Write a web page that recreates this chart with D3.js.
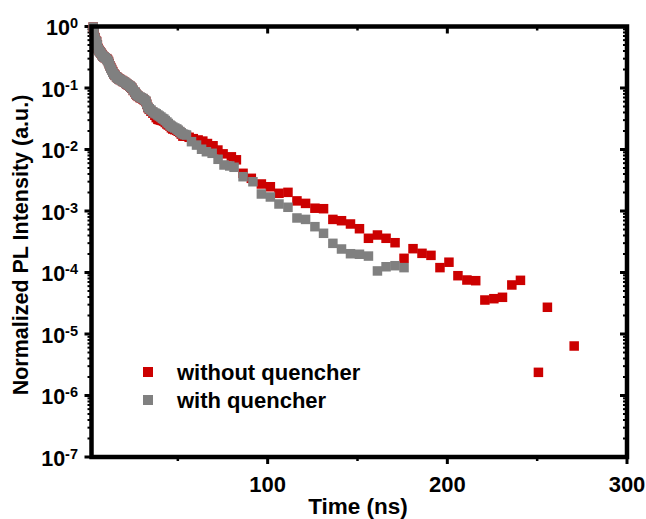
<!DOCTYPE html>
<html>
<head>
<meta charset="utf-8">
<script src="https://cdn.jsdelivr.net/npm/d3@7"></script>
<style>
  html, body { margin: 0; padding: 0; background: #fff; }
  svg { display: block; font-family: "Liberation Sans", Arial, sans-serif; font-weight: bold; }
</style>
</head>
<body>
<svg id="chart" width="646" height="519"></svg>
<script>
// PL decay, time in ns, intensity normalized to the first point
const timeWithout = [2.9, 3.4, 3.9, 4.3, 4.8, 5.2, 5.7, 6.2, 6.7, 7.2, 7.8, 8.3, 8.9, 9.6, 10.4, 10.9, 11.4, 11.8, 12.2, 12.7, 13.2, 13.8, 14.4, 15.1, 15.9, 16.5, 17.2, 17.9, 18.7, 19.5, 20.3, 21.0, 21.7, 22.5, 23.3, 23.8, 24.4, 25.2, 26.1, 26.6, 27.2, 28.0, 28.9, 29.7, 30.6, 31.4, 32.2, 32.7, 33.3, 34.1, 35.0, 36.1, 37.2, 38.0, 38.9, 39.7, 40.6, 41.4, 42.2, 43.0, 43.9, 44.7, 45.6, 46.4, 47.2, 48.3, 49.4, 50.2, 51.1, 51.9, 52.8, 53.8, 54.8, 56.3, 58.6, 61.3, 63.9, 66.5, 69.6, 72.3, 75.2, 79.8, 82.6, 86.3, 90.9, 96.5, 101.5, 106.3, 111.3, 116.3, 121.1, 126.3, 131.1, 136.3, 141.1, 146.1, 151.1, 156.1, 161.1, 165.9, 170.9, 175.9, 180.9, 185.9, 190.9, 195.9, 200.9, 205.9, 210.9, 215.8, 220.9, 225.9, 230.7, 235.9, 240.7, 250.7, 255.7, 270.6];
const intensityWithout = [0.98, 0.81, 0.66, 0.59, 0.57, 0.50, 0.44, 0.41, 0.39, 0.37, 0.35, 0.33, 0.32, 0.31, 0.30, 0.285, 0.27, 0.25, 0.23, 0.215, 0.20, 0.185, 0.17, 0.161, 0.152, 0.146, 0.141, 0.137, 0.133, 0.128, 0.124, 0.119, 0.115, 0.111, 0.107, 0.103, 0.099, 0.091, 0.085, 0.080, 0.076, 0.073, 0.070, 0.068, 0.066, 0.063, 0.060, 0.054, 0.048, 0.045, 0.042, 0.039, 0.036, 0.033, 0.031, 0.0305, 0.030, 0.0295, 0.029, 0.0275, 0.026, 0.025, 0.024, 0.0225, 0.0215, 0.021, 0.0205, 0.0198, 0.019, 0.0178, 0.0165, 0.0165, 0.0165, 0.0158, 0.0150, 0.0143, 0.0137, 0.0125, 0.0115, 0.0098, 0.0085, 0.0076, 0.0068, 0.0041, 0.0034, 0.00275, 0.00248, 0.00194, 0.00201, 0.00146, 0.00133, 0.00111, 0.00109, 0.00073, 0.000695, 0.000615, 0.000515, 0.00036, 0.000407, 0.00036, 0.000305, 0.00017, 0.000244, 0.000205, 0.00019, 0.00012, 0.000147, 0.0000887, 0.0000755, 0.0000736, 0.0000357, 0.0000375, 0.0000395, 0.0000627, 0.0000746, 0.00000238, 0.0000272, 0.00000638];

const timeWith = [2.9, 3.4, 3.9, 4.3, 4.8, 5.2, 5.7, 6.2, 6.7, 7.2, 7.8, 8.3, 8.9, 9.6, 10.4, 10.9, 11.4, 11.8, 12.2, 12.7, 13.2, 13.8, 14.4, 15.1, 15.9, 16.5, 17.2, 17.9, 18.7, 19.5, 20.3, 21.0, 21.7, 22.5, 23.3, 23.8, 24.4, 25.2, 26.1, 26.6, 27.2, 28.0, 28.9, 29.7, 30.6, 31.4, 32.2, 32.7, 33.3, 34.1, 35.0, 36.1, 37.2, 38.0, 38.9, 39.7, 40.6, 41.4, 42.2, 43.0, 43.9, 44.7, 45.6, 46.4, 47.2, 48.3, 49.4, 50.2, 51.1, 51.9, 52.8, 53.8, 54.8, 57.6, 60.4, 63.2, 65.9, 69.1, 72.4, 75.7, 78.9, 81.3, 86.3, 91.8, 96.5, 101.5, 106.3, 111.3, 116.3, 121.1, 126.3, 131.1, 136.3, 141.1, 146.1, 151.1, 156.1, 161.1, 165.9, 170.9, 175.9];
const intensityWith = [0.98, 0.80, 0.65, 0.58, 0.56, 0.50, 0.43, 0.40, 0.385, 0.37, 0.344, 0.33, 0.319, 0.31, 0.296, 0.28, 0.265, 0.245, 0.228, 0.21, 0.196, 0.18, 0.169, 0.160, 0.151, 0.145, 0.140, 0.137, 0.132, 0.128, 0.125, 0.120, 0.116, 0.112, 0.108, 0.104, 0.100, 0.092, 0.086, 0.081, 0.077, 0.074, 0.0714, 0.069, 0.0675, 0.064, 0.0615, 0.055, 0.0491, 0.046, 0.0439, 0.041, 0.0392, 0.038, 0.0364, 0.035, 0.0337, 0.032, 0.0313, 0.0296, 0.028, 0.0265, 0.025, 0.024, 0.0232, 0.0224, 0.0216, 0.0206, 0.0196, 0.0187, 0.0179, 0.0175, 0.0172, 0.0134, 0.0118, 0.0101, 0.0092, 0.00867, 0.00693, 0.0056, 0.0054, 0.00514, 0.00361, 0.00299, 0.00189, 0.00169, 0.0013, 0.00115, 0.00077, 0.00073, 0.000556, 0.000434, 0.000298, 0.000241, 0.000202, 0.000198, 0.000185, 0.000106, 0.000124, 0.000129, 0.00012];

const seriesNames = ["without quencher", "with quencher"];
const seriesColors = ["#cc0000", "#808080"];

const xTicksMajor = [100, 200, 300];
const xTicksMinor = [50, 150, 250];
const yExponents = [0, -1, -2, -3, -4, -5, -6, -7];

const svg = d3.select("#chart");
const plotLeft = 91.5, plotRight = 627, plotTop = 26.5, plotBottom = 457;

const x = d3.scaleLinear().domain([1.95, 300]).range([plotLeft, plotRight]);
const y = d3.scaleLog().domain([1e-7, 1]).range([plotBottom, plotTop]);

const yMinor = [];
for (let e = -7; e < 0; e++) for (let m = 2; m <= 9; m++) yMinor.push(m * Math.pow(10, e));

// tick marks: outward on left/bottom, inward on top/right
const g = svg.append("g");
function tick(x1, y1, x2, y2, w) {
  g.append("line").attr("x1", x1).attr("y1", y1).attr("x2", x2).attr("y2", y2)
    .attr("stroke", "#000").attr("stroke-width", w);
}
xTicksMajor.forEach(t => { tick(x(t), plotBottom, x(t), plotBottom + 7, 3); tick(x(t), plotTop, x(t), plotTop + 7, 3); });
xTicksMinor.forEach(t => { tick(x(t), plotBottom, x(t), plotBottom + 4, 2.5); tick(x(t), plotTop, x(t), plotTop + 4, 2.5); });
yExponents.forEach(e => { const v = Math.pow(10, e); tick(plotLeft - 7, y(v), plotLeft, y(v), 3); tick(plotRight, y(v), plotRight - 7, y(v), 3); });
yMinor.forEach(v => { tick(plotLeft - 4, y(v), plotLeft, y(v), 2); tick(plotRight, y(v), plotRight - 4, y(v), 2); });

// markers
const size = 9.5;
const series = [
  { t: timeWithout, v: intensityWithout, color: seriesColors[0] },
  { t: timeWith, v: intensityWith, color: seriesColors[1] }
];
series.forEach(s => {
  svg.append("g").selectAll("rect").data(d3.range(s.t.length)).join("rect")
    .attr("x", i => x(s.t[i]) - size / 2)
    .attr("y", i => y(s.v[i]) - size / 2)
    .attr("width", size).attr("height", size)
    .attr("fill", s.color);
});

// frame
svg.append("rect").attr("x", plotLeft).attr("y", plotTop).attr("width", plotRight - plotLeft).attr("height", plotBottom - plotTop)
  .attr("fill", "none").attr("stroke", "#000").attr("stroke-width", 4.5);

// x tick labels
svg.append("g").selectAll("text").data(xTicksMajor).join("text")
  .attr("x", d => x(d)).attr("y", 492).attr("text-anchor", "middle")
  .attr("font-size", 22).text(d => d);

// y tick labels as 10 with superscript exponent
const yl = svg.append("g").selectAll("text").data(yExponents).join("text")
  .attr("x", 78).attr("y", d => y(Math.pow(10, d)) + 8.5)
  .attr("text-anchor", "end").attr("font-size", 21.5);
yl.append("tspan").text("10");
yl.append("tspan").attr("dy", -7).attr("font-size", 14.5).text(d => d === 0 ? "0" : "-" + Math.abs(d));

// axis titles
svg.append("text").attr("x", 358).attr("y", 514).attr("text-anchor", "middle")
  .attr("font-size", 22.5).text("Time (ns)");
svg.append("text").attr("transform", "translate(28,245) rotate(-90)").attr("text-anchor", "middle")
  .attr("font-size", 21.5).text("Normalized PL Intensity (a.u.)");

// legend
const legend = svg.append("g");
seriesNames.forEach((name, i) => {
  const cy = 372 + i * 28;
  legend.append("rect").attr("x", 143).attr("y", cy - 5).attr("width", 10).attr("height", 10)
    .attr("fill", seriesColors[i]);
  legend.append("text").attr("x", 177).attr("y", cy + 7.5).attr("font-size", 22).text(name);
});
</script>
</body>
</html>
